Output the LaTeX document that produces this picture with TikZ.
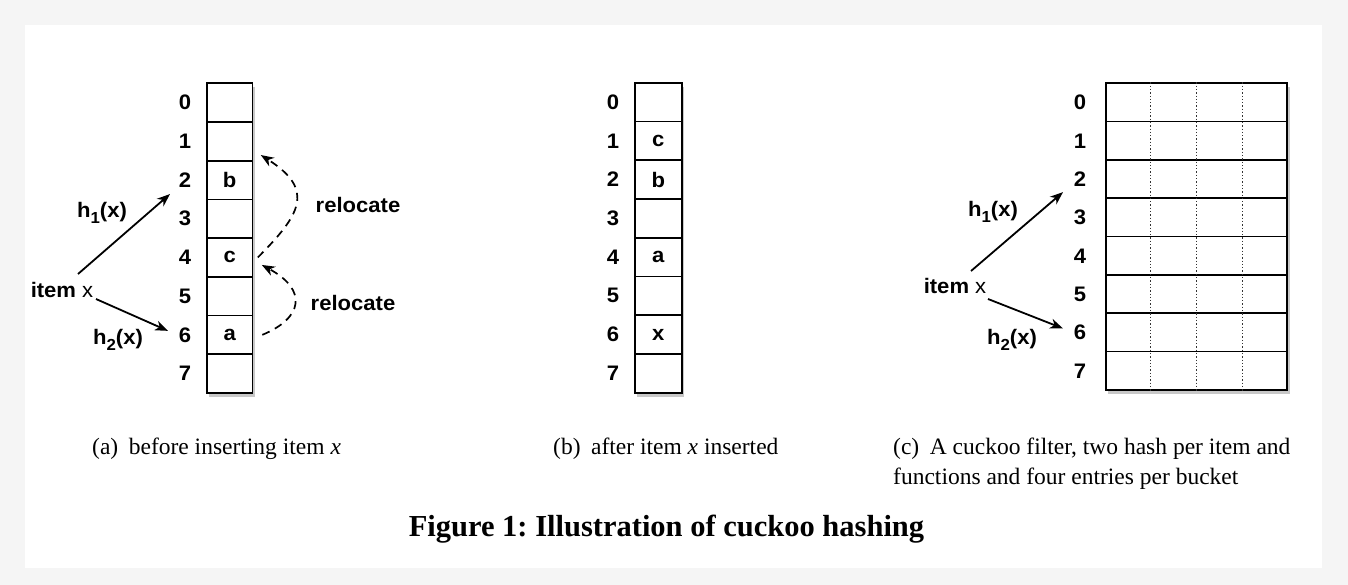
\documentclass[tikz,border=0pt]{standalone}
\usepackage{fontspec}
\setmainfont{Liberation Serif}
\newfontfamily\labfont[FakeStretch=1.05]{Liberation Sans}
\usetikzlibrary{arrows.meta,calc,shadows}
\definecolor{pagebg}{HTML}{F5F5F5}
\frenchspacing
\tikzset{
  lab/.style={font=\labfont\bfseries\fontsize{21}{24}\selectfont, inner sep=0pt},
  colbox/.style={draw, fill=white, line width=1.9pt, inner sep=0pt,
    drop shadow={shadow xshift=2.5pt, shadow yshift=-4pt, opacity=0.3, fill=black!70}},
  cellA/.style={draw, line width=1.7pt, minimum width=45.5pt, minimum height=38.7pt, inner sep=0pt, lab},
  cellB/.style={draw, line width=1.7pt, minimum width=46.7pt, minimum height=38.75pt, inner sep=0pt, lab},
  cellC/.style={draw, line width=1.7pt, minimum width=181.6pt, minimum height=38.33pt, inner sep=0pt},
  arr/.style={line width=1.8pt, -{Stealth[length=13pt, width=10pt, inset=4pt]}},
  relo/.style={line width=1.7pt, dash pattern=on 8pt off 6pt, -{Stealth[length=13pt, width=10pt, inset=4pt]}},
  slot/.style={line width=1.1pt, dash pattern=on 1.3pt off 2pt, black!80},
  captext/.style={font=\fontsize{23.5}{28}\selectfont, inner sep=0pt, anchor=base west},
}
\begin{document}
\begin{tikzpicture}[x=1pt, y=-1pt]
\useasboundingbox (0,0) rectangle (1348,585);
\fill[pagebg] (0,0) rectangle (1348,585);
\fill[white] (25,25) rectangle (1322,568);

% ---------- panel (a)
\node[colbox, minimum width=45.5pt, minimum height=309.6pt] (acol) at (229.7,238.1) {};
\foreach \i/\t in {0/,1/,2/b,3/,4/c,5/,6/a,7/} {
  \node[cellA] (a\i) at (229.7,{83.3+38.7*\i+19.35}) {\t};
  \node[lab] (ad\i) at (185,{83.3+38.7*\i+19.35}) {\i};
}
\node[lab, anchor=center] (itemA) at (62,290) {item \mdseries x};
\draw[arr] ($(itemA.center)+(16,-16)$) -- ($(ad2.center)+(-15,14)$);
\draw[arr] ($(itemA.center)+(34,9)$) -- ($(ad6.center)+(-17,-4)$);
\node[lab] (h1a) at (102,213) {h\raisebox{-6pt}{\fontsize{16}{16}\selectfont 1}(x)};
\node[lab] (h2a) at (118,340) {h\raisebox{-6pt}{\fontsize{16}{16}\selectfont 2}(x)};
\draw[relo] ($(a4.east)+(4.5,0)$) .. controls (300,215) and (316,190) .. ($(a1.east)+(7.5,13.7)$);
\draw[relo] ($(a6.east)+(9,0)$) .. controls (303,318) and (308,290) .. ($(a4.east)+(8.5,7.5)$);
\node[lab] (r1) at (358,205) {relocate};
\node[lab] (r2) at (353,303) {relocate};

% ---------- panel (b)
\node[colbox, minimum width=46.7pt, minimum height=310pt] (bcol) at (658.3,237.7) {};
\foreach \i/\t in {0/,1/c,2/b,3/,4/a,5/,6/x,7/} {
  \node[cellB] (b\i) at (658.3,{82.7+38.75*\i+19.375}) {\t};
  \node[lab] (bd\i) at (613,{82.7+38.75*\i+19.375}) {\i};
}

% ---------- panel (c)
\node[colbox, minimum width=181.6pt, minimum height=306.6pt] (ccol) at (1196.5,236.6) {};
\foreach \i in {0,...,7} {
  \node[cellC] (c\i) at (1196.5,{83.3+38.33*\i+19.165}) {};
  \node[lab] (cd\i) at (1080,{83.3+38.33*\i+19.165}) {\i};
}
\foreach \f in {0.25,0.5,0.75}
  \draw[slot] ($(ccol.north west)!\f!(ccol.north east)$) -- ($(ccol.south west)!\f!(ccol.south east)$);
\node[lab, anchor=center] (itemC) at (955,286) {item \mdseries x};
\draw[arr] ($(itemC.center)+(16,-15)$) -- ($(cd2.center)+(-17,13)$);
\draw[arr] ($(itemC.center)+(33,13)$) -- ($(cd6.center)+(-17,-4)$);
\node[lab] (h1c) at (993,212) {h\raisebox{-6pt}{\fontsize{16}{16}\selectfont 1}(x)};
\node[lab] (h2c) at (1012,340) {h\raisebox{-6pt}{\fontsize{16}{16}\selectfont 2}(x)};

% ---------- captions
\node[captext] (capA) at (92,454) {(a)\hspace{0.45em}before inserting item \textit{x}};
\node[captext] (capB) at (553,454) {(b)\hspace{0.45em}after item \textit{x} inserted};
\node[captext] (capC1) at (893,454) {(c)\hspace{0.45em}A cuckoo filter, two hash per item and};
\node[captext] (capC2) at (893,484) {functions and four entries per bucket};
\node[font=\bfseries\fontsize{30.5}{36}\selectfont, inner sep=0pt, anchor=base] (title) at (666.5,536.7) {Figure 1: Illustration of cuckoo hashing};
\end{tikzpicture}
\end{document}
